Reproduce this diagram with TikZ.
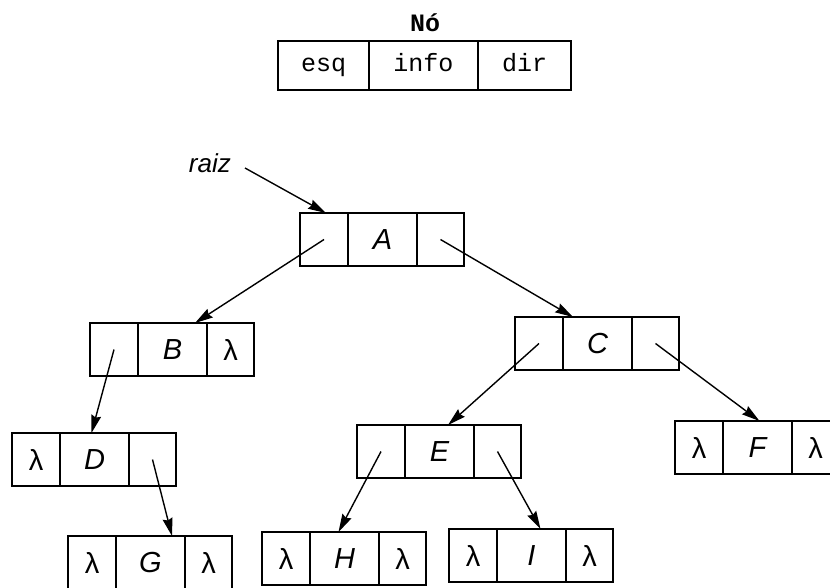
\documentclass[tikz,border=0pt]{standalone}
\usepackage{fontspec}
\setmainfont{Liberation Sans}
\newfontfamily\monofont{Liberation Mono}
\usetikzlibrary{arrows.meta}
\newcommand\lmb{{\upshape λ}}
\newcommand\rec[6]{%
  \node[cellL] (#1l) at (#2,#3) {#4};
  \node[cellM] (#1m) at (#1l.north east) {#5};
  \node[cellR] (#1r) at (#1m.north east) {#6};
}
\begin{document}
\begin{tikzpicture}[x=1pt,y=-1pt,
  cellbox/.style={draw, line width=1.5pt, minimum height=53pt, inner sep=0pt, outer sep=0pt,
    anchor=north west, font=\itshape\fontsize{29}{29}\selectfont},
  cellL/.style={cellbox, minimum width=48pt},
  cellM/.style={cellbox, minimum width=69pt},
  cellR/.style={cellbox, minimum width=47pt},
  hcell/.style={draw, line width=1.2pt, minimum height=49pt, inner sep=0pt, outer sep=0pt,
    text height=15pt, text depth=4pt,
    anchor=north west, font=\monofont\fontsize{25}{25}\selectfont},
  link/.style={line width=1.4pt, -{Stealth[length=18pt,width=10pt,inset=2pt]}}]
\useasboundingbox (0,0) rectangle (830,587);
\fill[white] (0,0) rectangle (830,587);
% header
\node[font=\monofont\bfseries\fontsize{25}{25}\selectfont] (title) at (425,23) {Nó};
\node[hcell, minimum width=91pt] (hesq) at (278,41) {esq};
\node[hcell, minimum width=109pt] (hinfo) at (hesq.north east) {info};
\node[hcell, minimum width=93pt] (hdir) at (hinfo.north east) {dir};
% records
\rec{A}{300}{213}{}{A}{}
\rec{B}{90}{323}{}{B}{\lmb}
\rec{C}{515}{317}{}{C}{}
\rec{D}{12}{433}{\lmb}{D}{}
\rec{E}{357}{425}{}{E}{}
\rec{F}{675}{421}{\lmb}{F}{\lmb}
\rec{G}{68}{536}{\lmb}{G}{\lmb}
\rec{H}{262}{532}{\lmb}{H}{\lmb}
\rec{I}{449}{529}{\lmb}{I}{\lmb}
% root label
\node[anchor=base east, inner sep=0pt, font=\itshape\fontsize{26}{26}\selectfont] (raiz) at (231,172) {raiz};
% links
\draw[link] ([xshift=14pt,yshift=4pt]raiz.base east) -- ([xshift=2pt]Al.north);
\draw[link] (Al.center) -- ([xshift=22.5pt]Bm.north);
\draw[link] (Ar.center) -- ([xshift=-24.5pt]Cm.north);
\draw[link] (Bl.center) -- ([xshift=-3pt]Dm.north);
\draw[link] (Dr.center) -- ([xshift=21.5pt]Gm.north);
\draw[link] (Cl.center) -- ([xshift=8.5pt]Em.north);
\draw[link] (Cr.center) -- ([xshift=2pt]Fm.north);
\draw[link] (El.center) -- ([xshift=-6pt]Hm.north);
\draw[link] (Er.center) -- ([xshift=9pt]Im.north);
\end{tikzpicture}
\end{document}
